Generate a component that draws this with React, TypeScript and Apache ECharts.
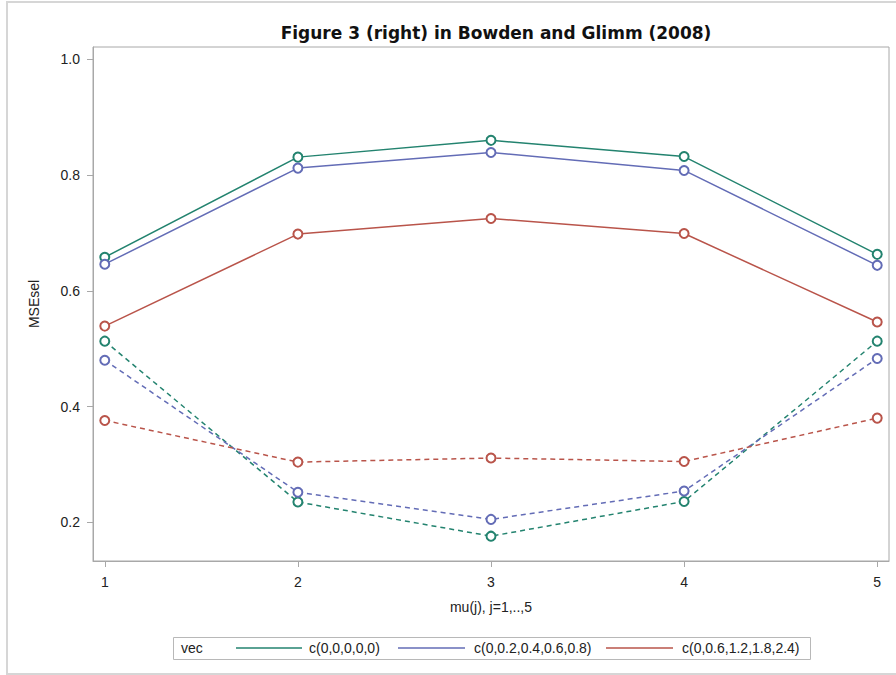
import React, { useEffect, useRef } from "react";
import * as echarts from "echarts";

const xValues = [1, 2, 3, 4, 5];
const seriesNames = ["c(0,0,0,0,0)", "c(0,0.2,0.4,0.6,0.8)", "c(0,0.6,1.2,1.8,2.4)"];
const solidValues = [
  [0.658, 0.831, 0.86, 0.832, 0.663],
  [0.646, 0.812, 0.839, 0.808, 0.644],
  [0.539, 0.698, 0.725, 0.699, 0.546],
];
const dashedValues = [
  [0.513, 0.235, 0.176, 0.236, 0.513],
  [0.48, 0.252, 0.205, 0.254, 0.483],
  [0.376, 0.304, 0.311, 0.305, 0.38],
];
const yTicks = [0.2, 0.4, 0.6, 0.8, 1.0];
const xTicks = [1, 2, 3, 4, 5];
const colors = ["#23836f", "#636cb6", "#b9544a"];

const FONT = "Liberation Sans";

export default function App() {
  const ref = useRef<HTMLDivElement>(null);
  useEffect(() => {
    if (!ref.current) return;
    const chart = echarts.init(ref.current, null, { renderer: "svg" });
    const series: any[] = [];
    solidValues.forEach((vals, i) => {
      series.push({
        type: "line",
        name: seriesNames[i],
        data: vals.map((v, k) => [xValues[k], v]),
        symbol: "emptyCircle",
        symbolSize: 9,
        lineStyle: { color: colors[i], width: 1.5 },
        itemStyle: { color: colors[i], borderColor: colors[i], borderWidth: 1 },
        z: 3,
      });
    });
    dashedValues.forEach((vals, i) => {
      series.push({
        type: "line",
        name: seriesNames[i] + " (dashed)",
        data: vals.map((v, k) => [xValues[k], v]),
        symbol: "emptyCircle",
        symbolSize: 9,
        lineStyle: { color: colors[i], width: 1.5, type: [5, 4] },
        itemStyle: { color: colors[i], borderColor: colors[i], borderWidth: 1 },
        z: 2,
      });
    });

    const legendY = 648;
    const legendItems = [
      { x1: 236, x2: 302, tx: 309 },
      { x1: 398, x2: 465, tx: 474 },
      { x1: 606, x2: 673, tx: 682 },
    ];
    const graphic: any[] = [
      {
        type: "rect",
        shape: { x: 7, y: 2, width: 900, height: 672 },
        style: { fill: "none", stroke: "#d6d6d6", lineWidth: 2 },
        silent: true,
      },
      {
        type: "rect",
        shape: { x: 173.5, y: 637.5, width: 637, height: 22 },
        style: { fill: "none", stroke: "#b8b8b8", lineWidth: 1 },
      },
      {
        type: "text",
        x: 181,
        y: legendY,
        style: { text: "vec", fontFamily: FONT, fontSize: 14, fill: "#222", verticalAlign: "middle" },
      },
    ];
    legendItems.forEach((it, i) => {
      graphic.push({
        type: "line",
        shape: { x1: it.x1, y1: legendY, x2: it.x2, y2: legendY },
        style: { stroke: colors[i], lineWidth: 1.5 },
      });
      graphic.push({
        type: "text",
        x: it.tx,
        y: legendY,
        style: { text: seriesNames[i], fontFamily: FONT, fontSize: 14, fill: "#222", verticalAlign: "middle" },
      });
    });

    chart.setOption({
      animation: false,
      backgroundColor: "#ffffff",
      title: {
        text: "Figure 3 (right) in Bowden and Glimm (2008)",
        left: 491,
        top: 19,
        textAlign: "center",
        textStyle: { fontFamily: "DejaVu Sans", fontSize: 17, fontWeight: "bold", color: "#111" },
      },
      grid: {
        left: 93,
        top: 47,
        width: 796,
        height: 514,
        show: true,
        borderColor: "#a8a8a8",
        borderWidth: 1,
        backgroundColor: "transparent",
      },
      xAxis: {
        type: "value",
        min: 0.939,
        max: 5.061,
        name: "mu(j), j=1,..,5",
        nameLocation: "middle",
        nameGap: 39,
        nameTextStyle: { fontFamily: FONT, fontSize: 14, color: "#222", verticalAlign: "top" },
        axisLine: { show: true, lineStyle: { color: "#a8a8a8" } },
        axisTick: { show: true, length: 6, customValues: xTicks, lineStyle: { color: "#a8a8a8" } },
        axisLabel: {
          customValues: xTicks,
          margin: 14,
          fontFamily: FONT,
          fontSize: 14,
          color: "#222",
        },
        splitLine: { show: false },
      },
      yAxis: {
        type: "value",
        min: 0.1331,
        max: 1.0213,
        name: "MSEsel",
        nameLocation: "middle",
        nameGap: 52,
        nameRotate: 90,
        nameTextStyle: { fontFamily: FONT, fontSize: 14, color: "#222" },
        axisLine: { show: true, lineStyle: { color: "#a8a8a8" } },
        axisTick: { show: true, length: 6, customValues: yTicks, lineStyle: { color: "#a8a8a8" } },
        axisLabel: {
          customValues: yTicks,
          margin: 13,
          fontFamily: FONT,
          fontSize: 14,
          color: "#222",
          formatter: (v: number) => v.toFixed(1),
        },
        splitLine: { show: false },
      },
      graphic,
      series,
    });
    return () => chart.dispose();
  }, []);
  return (
    <div
      ref={ref}
      style={{ position: "fixed", left: 0, top: 0, width: 896, height: 675 }}
    />
  );
}
